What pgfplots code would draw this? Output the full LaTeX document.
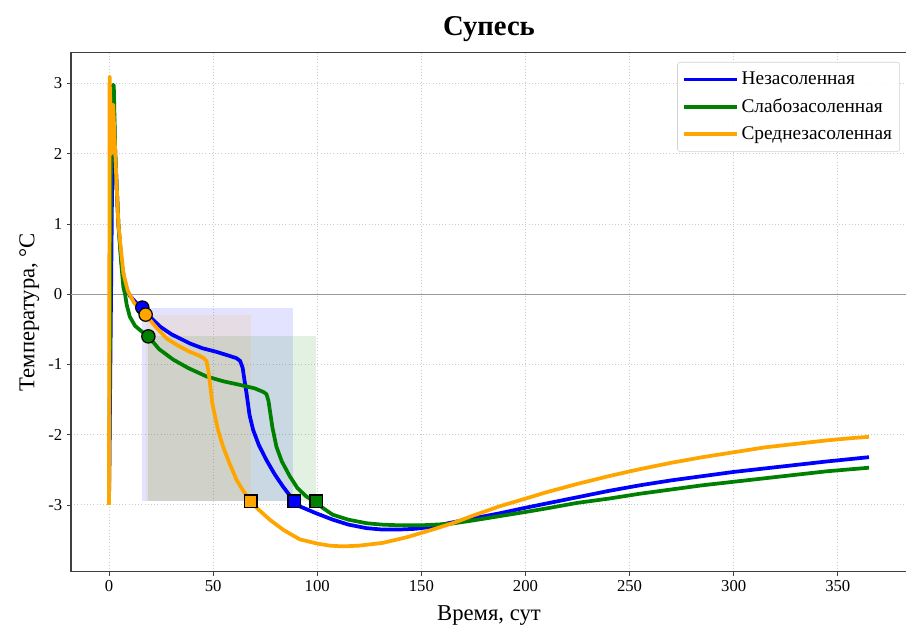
\documentclass[border=0pt]{standalone}
\usepackage{pgfplots}
\pgfplotsset{compat=1.18}
\usepackage{fontspec}
\setmainfont{Liberation Serif}
\definecolor{cblue}{RGB}{0,0,255}
\definecolor{cgreen}{RGB}{0,128,0}
\definecolor{corange}{RGB}{255,165,0}
\begin{document}
\begin{tikzpicture}
\begin{axis}[
  at={(0,0)}, anchor=south west,
  scale only axis, width=627pt, height=389.25pt,
  xmin=-18.25, xmax=383.25, ymin=-3.95, ymax=3.44,
  xtick={0,50,...,350}, ytick={-3,-2,-1,0,1,2,3},
  /pgf/number format/assume math mode=true,
  tick align=outside, major tick length=3pt,
  tick style={black!75, line width=0.6pt},
  axis line style={black!75, line width=0.8pt},
  xtick pos=bottom, ytick pos=left,
  grid=major, grid style={dotted, gray!40, line width=0.7pt},
  ticklabel style={font=\fontsize{12.5}{15}\selectfont},
  title={\fontsize{21.5}{25}\selectfont\bfseries Супесь},
  title style={yshift=-1pt},
  xlabel={Время, сут}, ylabel={Температура, °C},
  label style={font=\fontsize{17}{20}\selectfont},
  xlabel style={yshift=-3.5pt},
  legend style={at={(0.9916,0.982)}, anchor=north east, draw=gray!35, rounded corners=2pt,
    fill=white, fill opacity=0.85, text opacity=1, font=\fontsize{14.5}{17}\selectfont,
    row sep=5pt, inner xsep=3.75pt, inner ysep=5.5pt},
  legend cell align=left,
  legend image code/.code={\path (0pt,0pt) -- (39.5pt,0pt); \draw[#1] (0pt,0pt) -- (32pt,0pt);},
]
% shaded rectangles
\addplot[draw=none, fill=cblue, fill opacity=0.11, forget plot] coordinates {(16,-0.19) (88.5,-0.19) (88.5,-2.95) (16,-2.95)} -- cycle;
\addplot[draw=none, fill=cgreen, fill opacity=0.11, forget plot] coordinates {(18.9,-0.60) (99.6,-0.60) (99.6,-2.95) (18.9,-2.95)} -- cycle;
\addplot[draw=none, fill=corange, fill opacity=0.11, forget plot] coordinates {(17.6,-0.29) (68.2,-0.29) (68.2,-2.95) (17.6,-2.95)} -- cycle;
% zero line
\addplot[gray!80, line width=0.6pt, forget plot] coordinates {(-18.25,0) (383.25,0)};
% Blue
\addplot[cblue, line width=2.8pt, line join=round] coordinates {
(0,-3) (1.3,0.95) (1.4,1.3) (2.2,2.75) (3,2.0) (4.5,1.0) (6,0.45) (8,0.1) (10,-0.02) (13,-0.12) (16,-0.19)
(20,-0.33) (24.5,-0.46) (30,-0.57) (38.8,-0.70) (45,-0.77) (51.6,-0.82) (57,-0.87) (61.2,-0.91) (63,-0.95)
(64.2,-1.05) (65.2,-1.25) (66,-1.4) (67.5,-1.72) (69.2,-1.93) (72,-2.15) (75.6,-2.36) (79.5,-2.56) (83.6,-2.74)
(89,-2.95) (91.6,-3.02) (99.6,-3.12) (107.5,-3.21) (115,-3.28) (123.6,-3.33) (131,-3.35) (139.5,-3.35)
(147,-3.34) (155.5,-3.31) (163,-3.26) (171.5,-3.21) (187.5,-3.12) (200,-3.04) (210,-2.98) (225,-2.89)
(240,-2.80) (255,-2.72) (270,-2.65) (285,-2.59) (300,-2.53) (315,-2.48) (330,-2.43) (345,-2.38) (365,-2.32)};
\addlegendentry{Незасоленная}
% Green
\addplot[cgreen, line width=2.8pt, line join=round] coordinates {
(0,-3) (1.0,2.2) (1.8,2.98) (2.3,2.98) (3,2.0) (4.5,1.0) (6,0.4) (6.9,0.1) (7.7,0.0) (8.5,-0.15) (10,-0.32)
(12.5,-0.45) (15.7,-0.53) (18.9,-0.60) (24,-0.78) (30.8,-0.93) (38,-1.05) (46.8,-1.17) (55,-1.24) (62.8,-1.29)
(70,-1.34) (74,-1.39) (75.6,-1.42) (76.6,-1.52) (77.5,-1.70) (78.5,-1.90) (80.4,-2.17) (83,-2.38) (86.8,-2.59)
(90.5,-2.76) (94.8,-2.88) (99.6,-2.97) (103,-3.05) (107.5,-3.14) (115,-3.21) (123.6,-3.26) (131,-3.28)
(139.5,-3.29) (150,-3.29) (163.5,-3.27) (175,-3.22) (187.5,-3.16) (200,-3.10) (210,-3.05) (225,-2.97)
(240,-2.91) (255,-2.84) (270,-2.78) (285,-2.72) (300,-2.67) (315,-2.62) (330,-2.57) (345,-2.52) (365,-2.47)};
\addlegendentry{Слабозасоленная}
% Orange
\addplot[corange, line width=2.8pt, line join=round] coordinates {
(0,-3) (0.3,3.1) (1.2,2.0) (2,2.7) (3,2.0) (4.5,1.0) (6.9,0.3) (9,0.05) (12,-0.12) (15,-0.22) (17.6,-0.29)
(22,-0.45) (27.7,-0.63) (33,-0.73) (38.8,-0.82) (43,-0.87) (45.5,-0.91) (46.8,-0.95) (47.8,-1.1) (48.6,-1.3)
(49.6,-1.55) (50.8,-1.72) (52.5,-1.95) (54.8,-2.17) (57.5,-2.38) (61.2,-2.64) (64.5,-2.80) (68,-2.95)
(72,-3.07) (77.2,-3.21) (84,-3.36) (91.6,-3.49) (100,-3.55) (106,-3.58) (112.3,-3.59) (120,-3.58)
(131.5,-3.54) (143,-3.46) (155.5,-3.35) (165,-3.26) (175,-3.15) (187.5,-3.02) (200,-2.91) (210,-2.82)
(225,-2.70) (240,-2.59) (255,-2.49) (270,-2.40) (285,-2.32) (300,-2.25) (315,-2.18) (330,-2.13) (345,-2.08)
(358,-2.045) (365,-2.03)};
\addlegendentry{Среднезасоленная}
% markers
\addplot[only marks, mark=*, mark size=5pt, draw=black, fill=cblue, line width=0.9pt, forget plot] coordinates {(16,-0.19)};
\addplot[only marks, mark=*, mark size=5pt, draw=black, fill=cgreen, line width=0.9pt, forget plot] coordinates {(18.9,-0.60)};
\addplot[only marks, mark=*, mark size=5pt, draw=black, fill=corange, line width=0.9pt, forget plot] coordinates {(17.6,-0.29)};
\addplot[only marks, mark=square*, mark size=4.8pt, draw=black, fill=cblue, line width=0.9pt, forget plot] coordinates {(89,-2.95)};
\addplot[only marks, mark=square*, mark size=4.8pt, draw=black, fill=cgreen, line width=0.9pt, forget plot] coordinates {(99.6,-2.95)};
\addplot[only marks, mark=square*, mark size=4.8pt, draw=black, fill=corange, line width=0.9pt, forget plot] coordinates {(68,-2.95)};
\end{axis}
\pgfresetboundingbox
\path[use as bounding box] (-53.25pt,-41.5pt) rectangle (626.25pt,428.75pt);
\end{tikzpicture}
\end{document}
